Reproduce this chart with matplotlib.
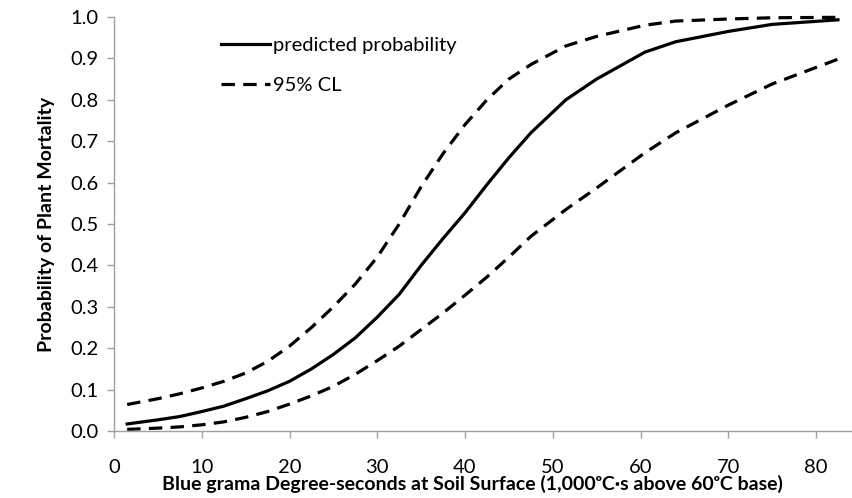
import matplotlib
matplotlib.use("Agg")
import matplotlib.pyplot as plt

plt.rcParams["font.family"] = ["Lato", "DejaVu Sans"]

# values
degree_sec = [1.5, 5, 7.5, 10, 12.5, 15, 17.5, 20, 22.5, 25, 27.5, 30, 32.5, 35,
              37.5, 40, 42.5, 45, 47.5, 51.5, 55, 60.5, 64, 70, 75, 82.5]
predicted = [0.017, 0.027, 0.035, 0.047, 0.06, 0.078, 0.097, 0.12, 0.15, 0.185,
             0.225, 0.275, 0.33, 0.40, 0.465, 0.527, 0.595, 0.66, 0.72, 0.80,
             0.85, 0.915, 0.94, 0.965, 0.982, 0.993]
upper_cl = [0.064, 0.078, 0.09, 0.104, 0.12, 0.14, 0.168, 0.205, 0.25, 0.30,
            0.355, 0.42, 0.50, 0.59, 0.67, 0.74, 0.80, 0.85, 0.885, 0.93,
            0.953, 0.98, 0.99, 0.995, 0.998, 0.999]
lower_cl = [0.004, 0.007, 0.01, 0.015, 0.022, 0.033, 0.047, 0.065, 0.085, 0.108,
            0.137, 0.17, 0.205, 0.245, 0.285, 0.328, 0.372, 0.42, 0.47, 0.535,
            0.587, 0.672, 0.72, 0.787, 0.838, 0.898]

x_ticks = [0, 10, 20, 30, 40, 50, 60, 70, 80]
y_ticks = [i / 10 for i in range(11)]

fig = plt.figure(figsize=(8.52, 4.98), dpi=100)
ax = fig.add_axes([0.1338, 0.1345, 0.8662, 0.8315])

ax.plot(degree_sec, predicted, c="black", lw=2.3, label="predicted probability", clip_on=False)
ax.plot(degree_sec, upper_cl, c="black", lw=2.3, ls=(0, (4.2, 2.6)), label="95% CL", clip_on=False)
ax.plot(degree_sec, lower_cl, c="black", lw=2.3, ls=(0, (4.2, 2.6)), clip_on=False)

ax.set_xlim(0, 84.1)
ax.set_ylim(0, 1.0)
ax.set_xticks(x_ticks)
ax.set_yticks(y_ticks)
ax.set_yticklabels([f"{v:.1f}" for v in y_ticks])

for side in ["top", "right"]:
    ax.spines[side].set_visible(False)
for side in ["left", "bottom"]:
    ax.spines[side].set_color("#a0a0a0")
    ax.spines[side].set_linewidth(1)

ax.tick_params(axis="both", colors="#a0a0a0", labelcolor="black", labelsize=14.5,
               direction="out", length=5, width=1)
ax.tick_params(axis="x", pad=15)
ax.tick_params(axis="y", pad=6)

ax.set_xlabel("Blue grama Degree-seconds at Soil Surface (1,000ᵒC·s above 60ᵒC base)",
              fontsize=14, fontweight="bold", labelpad=-1)
ax.xaxis.label.set_x(0.486)
ax.set_ylabel("Probability of Plant Mortality", fontsize=14, fontweight="bold", labelpad=11)

ax.legend(loc="upper left", bbox_to_anchor=(0.12, 0.995), frameon=False, fontsize=14.5,
          handlelength=2.45, handletextpad=0.15, labelspacing=1.15)

fig.savefig("out.png")
